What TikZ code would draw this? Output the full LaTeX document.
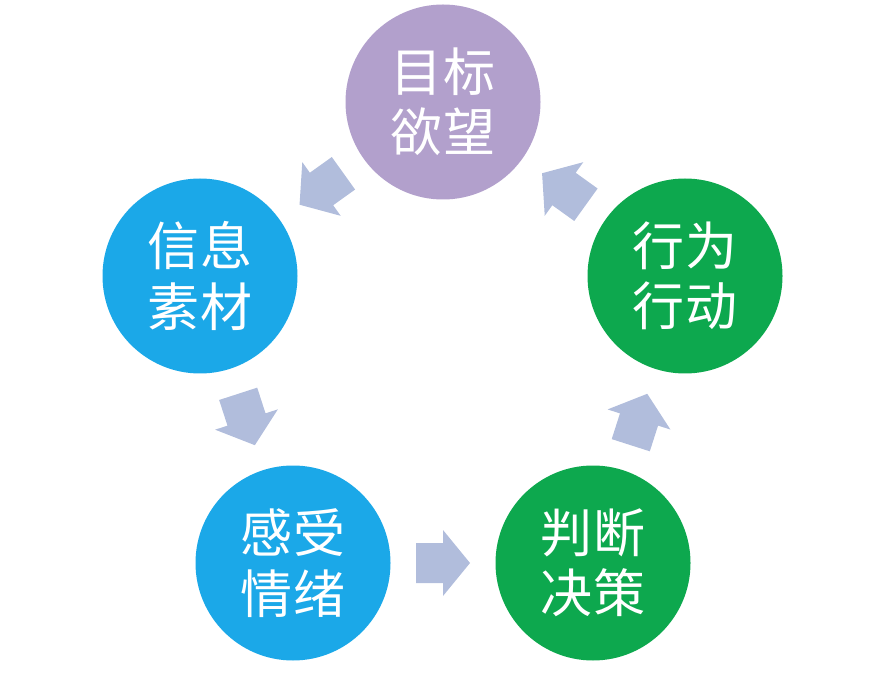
\documentclass[tikz,border=0pt]{standalone}
\usepackage{fontspec}
\newfontfamily\cjkfont{Noto Sans CJK SC}
\definecolor{goalPurple}{HTML}{B2A0CC}
\definecolor{infoBlue}{HTML}{1BA8E8}
\definecolor{actGreen}{HTML}{0DA84E}
\definecolor{flowGray}{HTML}{B1BDDC}
\tikzset{
  stage/.style={circle, minimum size=4.875cm, inner sep=0pt, text=white,
                align=center, font=\cjkfont\fontsize{37}{43}\selectfont},
  stagePurple/.style={stage, fill=goalPurple},
  stageBlue/.style={stage, fill=infoBlue},
  stageGreen/.style={stage, fill=actGreen},
  flow/.pic={
    \fill[flowGray] (-0.675,-0.5) -- (0,-0.5) -- (0,-0.825) -- (0.675,0)
      -- (0,0.825) -- (0,0.5) -- (-0.675,0.5) -- cycle;
  },
}
\begin{document}
\begin{tikzpicture}
    \useasboundingbox (0,0) rectangle (22.15,17);
    \node[stagePurple] (goal) at (11.075,14.45) {目标\\欲望};
    \node[stageBlue] (info) at (5.0,10.1) {信息\\素材};
    \node[stageGreen] (act) at (17.125,10.1) {行为\\行动};
    \node[stageBlue] (feel) at (7.325,2.925) {感受\\情绪};
    \node[stageGreen] (judge) at (14.825,2.925) {判断\\决策};
    \path (goal) -- pic[sloped, allow upside down] {flow} (info);
    \path (info) -- pic[sloped, allow upside down] {flow} (feel);
    \path (feel) -- pic[sloped, allow upside down] {flow} (judge);
    \path (judge) -- pic[sloped, allow upside down] {flow} (act);
    \path (act) -- pic[sloped, allow upside down] {flow} (goal);
  \end{tikzpicture}
\end{document}
